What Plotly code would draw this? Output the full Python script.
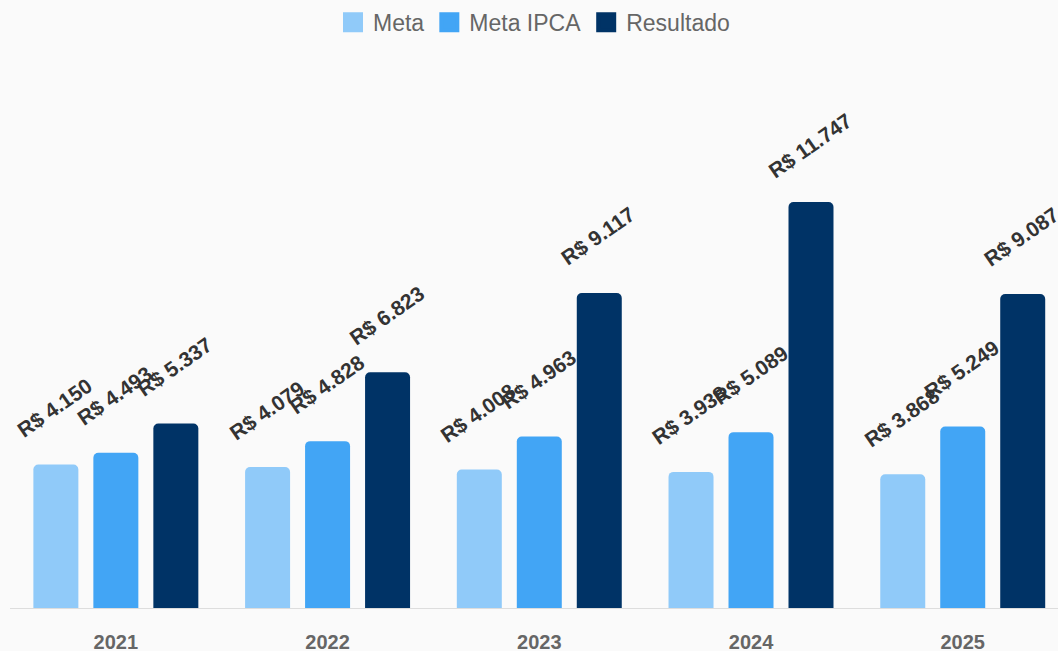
import plotly.graph_objects as go

years = ["2021", "2022", "2023", "2024", "2025"]
meta = [4150, 4079, 4008, 3938, 3868]
meta_ipca = [4493, 4828, 4963, 5089, 5249]
resultado = [5337, 6823, 9117, 11747, 9087]

series = [("Meta", meta, "#90CAF9"), ("Meta IPCA", meta_ipca, "#42A5F5"), ("Resultado", resultado, "#003366")]

def fmt(v):
    return "R$ " + f"{v:,}".replace(",", ".")

fig = go.Figure()
for name, vals, col in series:
    fig.add_trace(go.Bar(name=name, x=years, y=vals, legendgroup=name, showlegend=False,
                         marker=dict(color=col, line=dict(width=0))))
for name, vals, col in series:
    fig.add_trace(go.Scatter(name=name, x=[None], y=[None], mode="markers", legendgroup=name,
                             marker=dict(symbol="square", size=16, color=col, line=dict(color=col, width=4))))

annotations = []
for i, (name, vals, col) in enumerate(series):
    for j, v in enumerate(vals):
        annotations.append(dict(x=j, y=v, xref="x", yref="y", text=fmt(v), showarrow=False,
                                textangle=-35, xshift=(i - 1) * 60 - 1, yshift=57,
                                font=dict(family="Liberation Sans, Arial", size=21, color="#333333", weight="bold")))

fig.update_layout(
    width=1058, height=651,
    margin=dict(l=10, r=0, t=60, b=43),
    paper_bgcolor="#FAFAFA", plot_bgcolor="#FAFAFA",
    barmode="group", bargap=0.15, bargroupgap=0.25, barcornerradius=5,
    font=dict(family="Liberation Sans, Arial"),
    legend=dict(orientation="h", x=0.5, xanchor="center", y=1.108, yanchor="top",
                font=dict(size=23, color="#666666"), itemsizing="trace", itemwidth=30),
    annotations=annotations,
    xaxis=dict(type="category", range=[-0.5, 4.45], showline=True, linecolor="#DDDDDD", linewidth=1,
               automargin=False,
               tickfont=dict(size=20, color="#666666", weight="bold"), ticks="", ticklabelstandoff=16),
    yaxis=dict(range=[0, 15857], visible=False, showgrid=False, zeroline=False, automargin=False),
)
fig.write_html("out.html", config={"displayModeBar": False},
               post_script="document.body.style.margin='0';document.body.style.background='#FAFAFA';")
